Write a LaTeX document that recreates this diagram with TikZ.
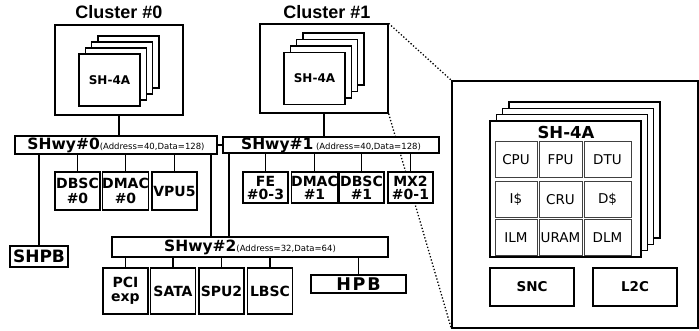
\documentclass[tikz,border=0pt]{standalone}
\usepackage{fontspec}
\setmainfont{DejaVu Sans}
\newfontfamily\titlefont{Liberation Sans}
\usetikzlibrary{positioning}
\usetikzlibrary{backgrounds}
\newcommand{\busname}[1]{{\fontsize{15.5}{15.5}\selectfont\bfseries #1}}
\tikzset{
        box/.style={draw, line width=1.3pt, fill=white, inner sep=0pt, align=center},
        % Cluster titles
        title/.style={font=\titlefont\bfseries\fontsize{18}{18}\selectfont},
        % Cluster frame and core stack
        cluster/.style={box, minimum width=128pt, minimum height=89pt},
        core/.style={box, minimum width=61pt, minimum height=52pt, font=\bfseries\fontsize{12}{12}\selectfont},
        % Buses
        bus/.style={box, font=\fontsize{8.5}{8.5}\selectfont},
        % Units on the buses
        unit/.style={box, minimum width=45pt, font=\bfseries\fontsize{14}{14.5}\selectfont},
        % Zoomed core
        bigcore/.style={box, minimum width=151pt, minimum height=136pt},
        cell/.style={draw=black!75, line width=1pt, fill=white, inner sep=0pt, minimum height=36pt, font=\fontsize{13.5}{13.5}\selectfont},
        block/.style={box, minimum width=84pt, minimum height=38pt, font=\bfseries\fontsize{13.5}{13.5}\selectfont},
        wire/.style={line width=1.3pt},
        zoomline/.style={dotted, line width=1.3pt}
}
\begin{document}
\begin{tikzpicture}[x=1pt, y=-1pt]
    \useasboundingbox (0,0) rectangle (699,331);
    % clusters
    \node[title] (title0) at (119,12) {Cluster \#0};
    \node[title] (title1) at (327,12) {Cluster \#1};
    \node[cluster, minimum height=90pt] (cl0) at (119,70) {};
    \node[cluster] (cl1) at (324,68.5) {};
    \foreach \i in {3,2,1} {
        \node[core] (cl0back\i) at (109.5+6.3*\i, 80-6*\i) {};
        \node[core] (cl1back\i) at (314.5+6.3*\i, 78.5-6.5*\i) {};
    }
    \node[core] (core0) at (109.5,80) {SH-4A};
    \node[core] (core1) at (314.5,78.5) {SH-4A};

    % buses
    \node[bus, minimum width=202pt, minimum height=18pt] (shwy0) at (116,145) {\busname{SHwy\#0}(Address=40,Data=128)};
    \node[bus, minimum width=216pt, minimum height=16pt] (shwy1) at (331,145) {\busname{SHwy\#1} (Address=40,Data=128)};
    \node[bus, minimum width=276pt, minimum height=20pt] (shwy2) at (250,247) {\busname{SHwy\#2}(Address=32,Data=64)};

    % units of SHwy#0
    \node[unit, minimum height=38pt] (dbsc0) at (77.5,191) {DBSC\\\#0};
    \node[unit, minimum height=38pt] (dmac0) at (125.5,191) {DMAC\\\#0};
    \node[unit, minimum height=38pt] (vpu5) at (174.5,191) {VPU5};
    \node[unit, minimum width=58pt, minimum height=21pt, font=\bfseries\fontsize{17}{17}\selectfont] (shpb) at (39,256.5) {SHPB};

    % units of SHwy#1
    \node[unit, minimum height=31pt, font=\bfseries\fontsize{14}{13}\selectfont] (fe) at (265.5,187.5) {FE\\\#0-3};
    \node[unit, minimum height=31pt, font=\bfseries\fontsize{14}{13}\selectfont] (dmac1) at (314.5,187.5) {DMAC\\\#1};
    \node[unit, minimum height=31pt, font=\bfseries\fontsize{14}{13}\selectfont] (dbsc1) at (361.5,187.5) {DBSC\\\#1};
    \node[unit, minimum height=31pt, font=\bfseries\fontsize{14}{13}\selectfont] (mx2) at (410.5,187.5) {MX2\\\#0-1};

    % units of SHwy#2
    \node[unit, minimum height=46pt] (pci) at (125.5,291) {PCI\\exp};
    \node[unit, minimum height=46pt] (sata) at (173,291) {SATA};
    \node[unit, minimum height=46pt] (spu2) at (221.5,291) {SPU2};
    \node[unit, minimum height=46pt] (lbsc) at (270,291) {LBSC};
    \node[unit, minimum width=95pt, minimum height=18pt, font=\bfseries\fontsize{17.5}{17.5}\selectfont\addfontfeature{LetterSpace=10}] (hpb) at (358.5,284) {HPB};

    % zoomed view of one core
    \node[box, minimum width=246pt, minimum height=247pt] (zoom) at (575,204.5) {};
    \foreach \i in {3,2,1}
        \node[bigcore] (bigback\i) at (565.5+6.3*\i, 189-6.3*\i) {};
    \node[bigcore] (bigcore) at (565.5,189) {};
    \node[font=\bfseries\fontsize{16.5}{16.5}\selectfont] (bigtitle) at (566,132) {SH-4A};
    \foreach \txt/\px/\py/\w [count=\k] in {CPU/516/159.5/42, FPU/560.5/159.5/43, DTU/607.5/159.5/47,
                                          I\$/516/199.5/42, CRU/560.5/199.5/43, D\$/607.5/199.5/47,
                                          ILM/516/237.5/42, URAM/560.5/237.5/43, DLM/607.5/237.5/47}
        \node[cell, minimum width=\w pt] (cell\k) at (\px,\py) {\txt};
    \node[block] (snc) at (532,287) {SNC};
    \node[block] (l2c) at (635,287) {L2C};

    % connections
    \draw[wire] (cl0.south) -- (cl0.south |- shwy0.north);
    \draw[wire] (cl1.south) -- (cl1.south |- shwy1.north);
    \draw[wire] (shwy0) -- (shwy1);
    \foreach \u in {dbsc0, dmac0, vpu5, shpb}
        \draw[wire] (\u.north) -- (\u.north |- shwy0.south);
    \foreach \u in {fe, dmac1, dbsc1, mx2}
        \draw[wire] (\u.north) -- (\u.north |- shwy1.south);
    \foreach \u in {pci, sata, spu2, lbsc, hpb}
        \draw[wire] (\u.north) -- (\u.north |- shwy2.south);
    \draw[wire] ([xshift=-39pt]shwy2.north) -- ([xshift=-39pt]shwy2.north |- shwy0.south);
    \draw[wire] ([xshift=-21pt]shwy2.north) -- ([xshift=-21pt]shwy2.north |- shwy1.south);

    \begin{pgfonlayer}{background}
        \draw[zoomline] (cl1.north east) -- (zoom.north west);
        \draw[zoomline] (cl1.south east) -- (zoom.south west);
    \end{pgfonlayer}
\end{tikzpicture}
\end{document}
